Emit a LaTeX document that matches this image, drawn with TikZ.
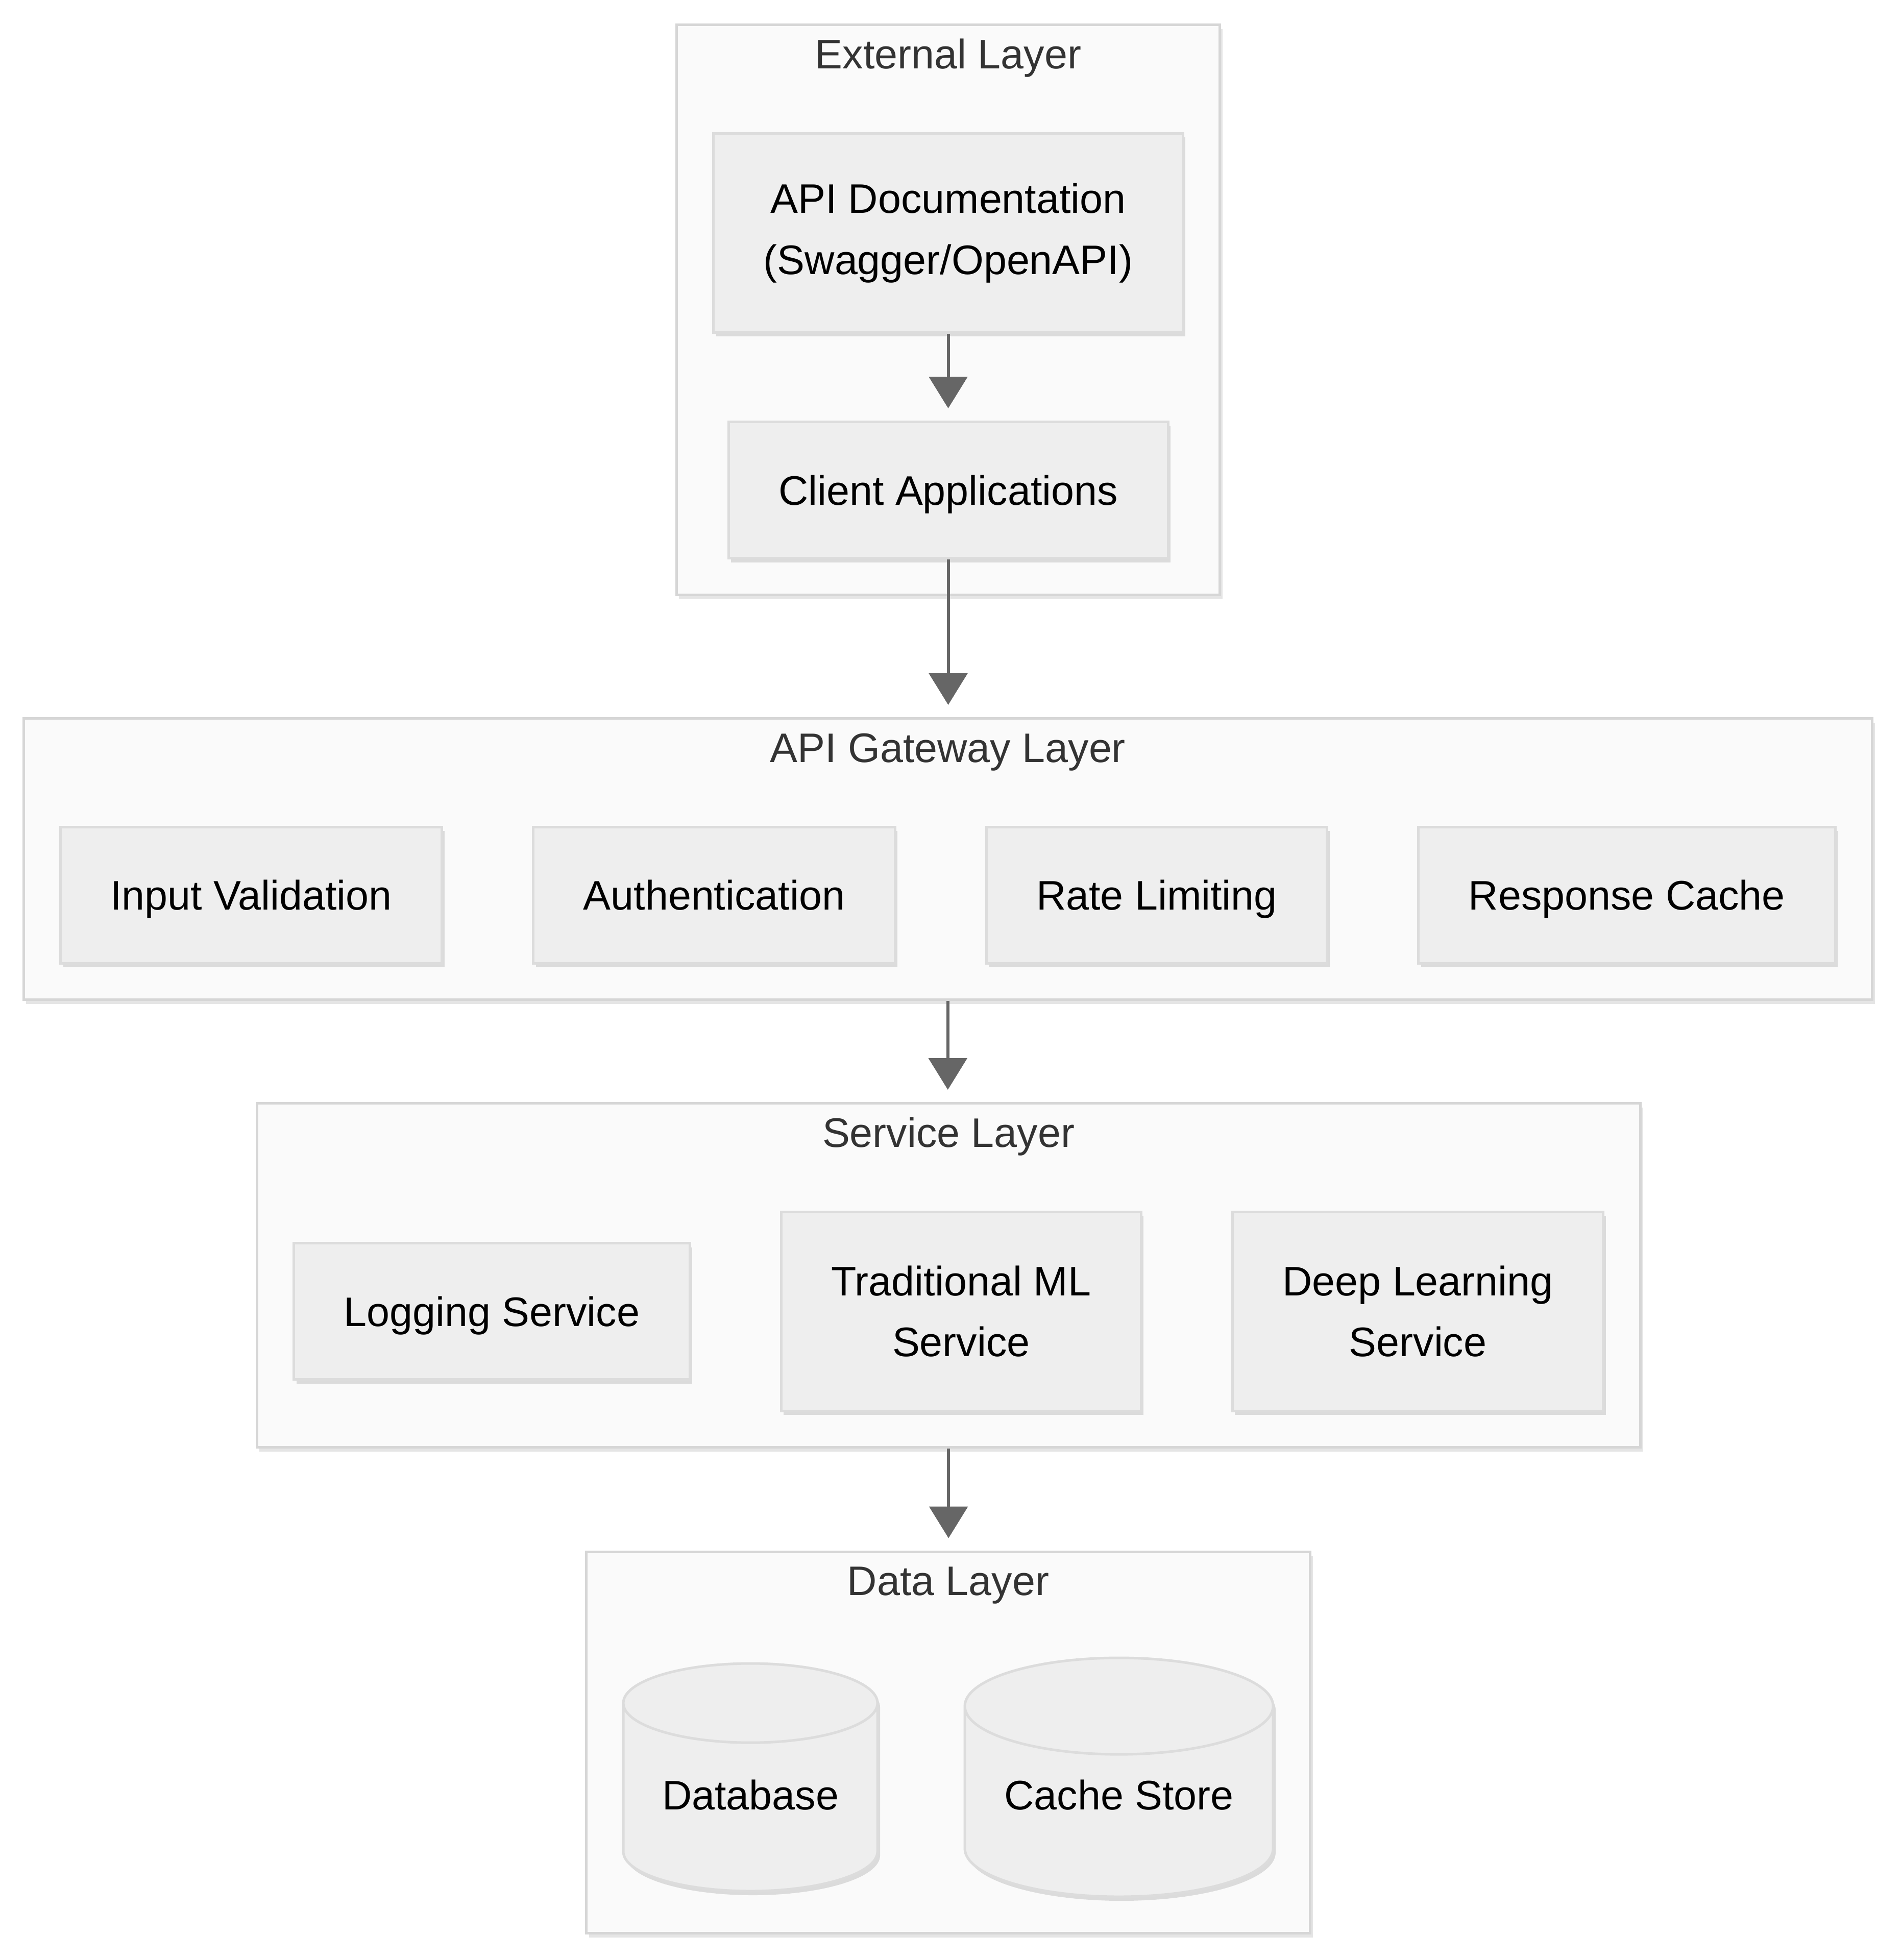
\documentclass[tikz,border=0pt]{standalone}
\usepackage{fontspec}
\setmainfont{Liberation Sans}
\usetikzlibrary{arrows.meta, positioning, fit, backgrounds, shadows, shapes.geometric}

\definecolor{layerfill}{HTML}{FAFAFA}
\definecolor{layerline}{HTML}{D6D6D6}
\definecolor{boxfill}{HTML}{EEEEEE}
\definecolor{boxline}{HTML}{DCDCDC}
\definecolor{arrowgray}{HTML}{666666}
\definecolor{titlegray}{HTML}{333333}

\begin{document}
\begin{tikzpicture}[
  every node/.style={font=\fontsize{23}{34}\selectfont},
  boxbase/.style={rectangle, draw=boxline, fill=boxfill, line width=0.05cm, align=center,
    inner xsep=0.98cm,
    drop shadow={shadow xshift=0.05cm, shadow yshift=-0.08cm, opacity=0.12, fill=black}},
  box/.style={boxbase, minimum height=2.67cm, text height=0.6cm, text depth=0.02cm},
  tallbox/.style={boxbase, minimum height=3.9cm},
  store/.style={cylinder, shape border rotate=90, draw=boxline, fill=boxfill, line width=0.05cm,
    anchor=shape center, text height=0.6cm,
    drop shadow={shadow xshift=0.05cm, shadow yshift=-0.08cm, opacity=0.12, fill=black}},
  layer/.style={rectangle, draw=layerline, fill=layerfill, line width=0.05cm,
    inner xsep=0.70cm, inner ysep=0.69cm,
    drop shadow={shadow xshift=0.05cm, shadow yshift=-0.08cm, opacity=0.10, fill=black}},
  layertitle/.style={text=titlegray, anchor=base, inner sep=0pt},
  arrow/.style={-{Triangle[length=0.62cm, width=0.75cm]}, line width=0.06cm, draw=arrowgray, shorten >=0.24cm},
  node distance=1.74cm
]
\useasboundingbox (0,0) rectangle (37.23,-38.40);

% External layer
\node[tallbox, anchor=north] (apidoc) at (18.575,-2.59) {API Documentation\\(Swagger/OpenAPI)};
\node[box, below=1.70cm of apidoc] (client) {Client Applications};
\coordinate (exttop) at ([yshift=1.41cm]apidoc.north);

% API gateway layer
\node[box, anchor=west] (inval) at (1.16,-17.535) {Input Validation};
\node[box, right=of inval] (auth) {Authentication};
\node[box, right=of auth] (ratelim) {Rate Limiting};
\node[box, right=of ratelim] (respcache) {Response Cache};
\coordinate (gwtop) at ([yshift=1.41cm]inval.north);

% Service layer
\node[box, anchor=west] (logsvc) at (5.73,-25.69) {Logging Service};
\node[tallbox, right=of logsvc] (tradml) {Traditional ML\\Service};
\node[tallbox, right=of tradml] (deepl) {Deep Learning\\Service};
\coordinate (svctop) at ([yshift=1.41cm]tradml.north);

% Data layer
\node[store, aspect=0.42, text depth=0.36cm, minimum width=4.98cm, minimum height=4.46cm] (db) at (14.70,-34.82) {Database};
\node[store, aspect=0.40, text depth=0.56cm, minimum width=6.04cm, minimum height=4.68cm] (cache) at (21.92,-34.82) {Cache Store};
\coordinate (datatop) at (18.575,-31.09);

% Layer frames
\begin{scope}[on background layer]
\node[layer, fit=(apidoc)(client)(exttop)] (ext) {};
\node[layer, fit=(inval)(respcache)(gwtop)] (gw) {};
\node[layer, fit=(logsvc)(deepl)(svctop)] (svc) {};
\node[layer, fit=(db)(cache)(datatop)] (data) {};
\end{scope}

\node[layertitle] (exttitle) at ([yshift=-0.88cm]ext.north) {External Layer};
\node[layertitle] (gwtitle) at ([yshift=-0.88cm]gw.north) {API Gateway Layer};
\node[layertitle] (svctitle) at ([yshift=-0.88cm]svc.north) {Service Layer};
\node[layertitle] (datatitle) at ([yshift=-0.88cm]data.north) {Data Layer};

% Arrows
\draw[arrow] (apidoc) -- (client);
\draw[arrow] (client.south) -- (client.south |- gw.north);
\draw[arrow] (gw.south) -- (gw.south |- svc.north);
\draw[arrow] (svc.south) -- (svc.south |- data.north);

\end{tikzpicture}
\end{document}
